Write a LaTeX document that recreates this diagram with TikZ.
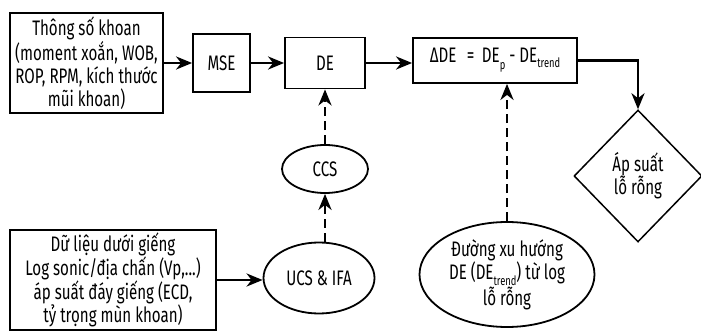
\documentclass[tikz,border=0pt]{standalone}
\usepackage{fontspec}
\setmainfont{Fira Sans}[FakeStretch=0.72]
\usetikzlibrary{shapes.geometric,arrows.meta}
\newcommand{\lowsub}[2]{\raisebox{#1}{\fontsize{13pt}{13pt}\selectfont #2}}
\tikzset{
  txt/.style={font=\fontsize{21pt}{23pt}\selectfont, align=center, inner sep=0pt},
  boxnode/.style={txt, draw, line width=1.8pt, rectangle},
  ellnode/.style={txt, draw, line width=1.8pt, ellipse},
  decnode/.style={txt, draw, line width=1.5pt, diamond},
  flow/.style={line width=2.6pt, -{Stealth[length=16pt,width=13pt,inset=5pt]}},
  dflow/.style={flow, dash pattern=on 9pt off 5pt},
}
\begin{document}
\begin{tikzpicture}[x=1pt,y=-1pt]
\useasboundingbox (0,0) rectangle (701,331);
\node[boxnode, minimum width=153pt, minimum height=100pt] (params) at (86.5,63)
  {Thông số khoan\\(moment xoắn, WOB,\\ROP, RPM, kích thước\\mũi khoan)};
\node[boxnode, minimum width=57pt, minimum height=58pt] (mse) at (221.5,63) {MSE};
\node[boxnode, minimum width=80pt, minimum height=51pt] (de) at (325,63) {DE};
\node[boxnode, minimum width=164pt, minimum height=45pt] (delta) at (495,60.5)
  {ΔDE\enspace=\, DE\lowsub{-7pt}{p} - DE\lowsub{-5pt}{trend}};
\node[decnode, minimum width=128pt, minimum height=132pt] (pore) at (638,176)
  {Áp suất\\lỗ rỗng};
\node[ellnode, minimum width=86pt, minimum height=48pt] (ccs) at (325,169) {CCS};
\node[ellnode, minimum width=111pt, minimum height=71pt] (ucs) at (319,278) {UCS \& IFA};
\node[boxnode, minimum width=206pt, minimum height=100pt] (well) at (113,280)
  {Dữ liệu dưới giếng\\Log sonic/địa chấn (Vp,...)\\áp suất đáy giếng (ECD,\\tỷ trọng mùn khoan)};
\node[ellnode, minimum width=175pt, minimum height=105pt] (trend) at (507,274.5)
  {Đường xu hướng\\DE (DE\lowsub{-6pt}{trend}) từ log\\lỗ rỗng};
\draw[flow] (params.east) -- (mse.west);
\draw[flow] (mse.east) -- (de.west);
\draw[flow] (de.east) -- (de.east -| delta.west);
\draw[flow] (delta.east) -| (pore.north);
\draw[flow] (well.east) -- (well.east -| ucs.west);
\draw[dflow] (ucs.north -| ccs.south) -- (ccs.south);
\draw[dflow] (ccs.north) -- (de.south);
\draw[dflow] (trend.north) -- (trend.north |- delta.south);
\end{tikzpicture}
\end{document}
